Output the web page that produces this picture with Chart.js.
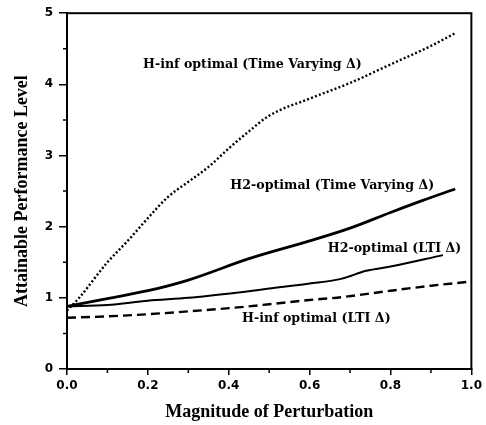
<!DOCTYPE html>
<html>
<head>
<meta charset="utf-8">
<script src="https://cdn.jsdelivr.net/npm/chart.js@4/dist/chart.umd.min.js"></script>
<style>
  html, body { margin: 0; padding: 0; background: #fff; }
  #wrap { width: 486px; height: 425px; }
</style>
</head>
<body>
<div id="wrap"><canvas id="chart" width="486" height="425"></canvas></div>
<script>
// values
const hinfTvX = [0.0, 0.03, 0.1, 0.15, 0.2, 0.25, 0.3, 0.35, 0.4, 0.45, 0.5, 0.6, 0.7, 0.8, 0.9, 0.96];
const hinfTvY = [0.82, 1.0, 1.5, 1.8, 2.12, 2.42, 2.63, 2.84, 3.1, 3.34, 3.56, 3.8, 4.02, 4.28, 4.54, 4.72];

const h2TvX = [0.0, 0.1, 0.2, 0.3, 0.45, 0.6, 0.7, 0.8, 0.88, 0.96];
const h2TvY = [0.88, 0.99, 1.1, 1.25, 1.55, 1.8, 1.98, 2.2, 2.37, 2.53];

const h2LtiX = [0.0, 0.1, 0.2, 0.3, 0.43, 0.5, 0.6, 0.68, 0.74, 0.8, 0.93];
const h2LtiY = [0.88, 0.9, 0.96, 1.0, 1.08, 1.13, 1.2, 1.27, 1.38, 1.44, 1.6];

const hinfLtiX = [0.0, 0.1, 0.2, 0.3, 0.43, 0.5, 0.6, 0.68, 0.8, 0.9, 1.0];
const hinfLtiY = [0.72, 0.74, 0.77, 0.81, 0.87, 0.91, 0.97, 1.01, 1.1, 1.17, 1.23];

const xTickLabels = ["0.0", "0.2", "0.4", "0.6", "0.8", "1.0"];
const yTickLabels = ["0", "1", "2", "3", "4", "5"];

const curveLabels = [
  { text: "H-inf optimal (Time Varying \u0394)", x: 0.188, y: 4.27 },
  { text: "H2-optimal (Time Varying \u0394)", x: 0.404, y: 2.58 },
  { text: "H2-optimal (LTI \u0394)", x: 0.645, y: 1.69 },
  { text: "H-inf optimal (LTI \u0394)", x: 0.433, y: 0.71 },
];

const toPoints = (xs, ys) => xs.map((x, i) => ({ x, y: ys[i] }));

// frame, minor ticks and curve labels
const decorations = {
  id: "decorations",
  afterDraw(chart) {
    const { ctx, chartArea: a, scales } = chart;
    const sx = scales.x, sy = scales.y;
    ctx.save();
    ctx.strokeStyle = "#000";
    ctx.lineWidth = 2;
    ctx.strokeRect(a.left, a.top, a.right - a.left, a.bottom - a.top);

    ctx.lineWidth = 1.5;
    ctx.beginPath();
    for (let v = 0.1; v < 1; v += 0.2) {
      const px = sx.getPixelForValue(v);
      ctx.moveTo(px, a.bottom);
      ctx.lineTo(px, a.bottom + 4);
    }
    for (let v = 0.5; v < 5; v += 1) {
      const py = sy.getPixelForValue(v);
      ctx.moveTo(a.left, py);
      ctx.lineTo(a.left - 4, py);
    }
    ctx.stroke();

    ctx.fillStyle = "#000";
    ctx.font = "bold 12.6px 'DejaVu Serif'";
    ctx.textAlign = "left";
    ctx.textBaseline = "middle";
    curveLabels.forEach((l) => {
      ctx.fillText(l.text, sx.getPixelForValue(l.x), sy.getPixelForValue(l.y));
    });
    ctx.restore();
  },
};

new Chart(document.getElementById("chart"), {
  type: "line",
  data: {
    datasets: [
      {
        data: toPoints(hinfTvX, hinfTvY),
        borderColor: "#000",
        borderWidth: 2.4,
        borderDash: [2, 2.2],
        cubicInterpolationMode: "monotone",
      },
      {
        data: toPoints(h2TvX, h2TvY),
        borderColor: "#000",
        borderWidth: 2.8,
        cubicInterpolationMode: "monotone",
      },
      {
        data: toPoints(h2LtiX, h2LtiY),
        borderColor: "#000",
        borderWidth: 2,
        cubicInterpolationMode: "monotone",
      },
      {
        data: toPoints(hinfLtiX, hinfLtiY),
        borderColor: "#000",
        borderWidth: 2.4,
        borderDash: [9, 5],
        cubicInterpolationMode: "monotone",
      },
    ],
  },
  options: {
    responsive: false,
    animation: false,
    events: [],
    elements: { point: { radius: 0 } },
    layout: { padding: { top: 12, right: 14, left: 0, bottom: 0 } },
    plugins: { legend: { display: false }, tooltip: { enabled: false } },
    scales: {
      x: {
        type: "linear",
        min: 0,
        max: 1,
        afterFit: (s) => { s.height = 56; },
        afterBuildTicks: (s) => { s.ticks = xTickLabels.map((t) => ({ value: parseFloat(t) })); },
        ticks: {
          callback: (v, i) => xTickLabels[i],
          color: "#000",
          font: { family: "'DejaVu Sans'", weight: "bold", size: 12 },
          padding: 4,
          maxRotation: 0,
        },
        grid: { drawOnChartArea: false, color: "#000", lineWidth: 1.5, tickLength: 6 },
        border: { color: "#000", width: 2 },
        title: {
          display: true,
          text: "Magnitude of Perturbation",
          color: "#000",
          font: { family: "'Liberation Serif'", weight: "bold", size: 18 },
          padding: { top: 0, bottom: 2 },
        },
      },
      y: {
        type: "linear",
        min: 0,
        max: 5,
        afterFit: (s) => { s.width = 67; },
        afterBuildTicks: (s) => { s.ticks = yTickLabels.map((t) => ({ value: parseFloat(t) })); },
        ticks: {
          callback: (v, i) => yTickLabels[i],
          color: "#000",
          font: { family: "'DejaVu Sans'", weight: "bold", size: 12 },
          padding: 6,
        },
        grid: { drawOnChartArea: false, color: "#000", lineWidth: 1.5, tickLength: 8 },
        border: { color: "#000", width: 2 },
        title: {
          display: true,
          text: "Attainable Performance Level",
          color: "#000",
          font: { family: "'Liberation Serif'", weight: "bold", size: 18 },
          padding: { top: 12, bottom: 0 },
        },
      },
    },
  },
  plugins: [decorations],
});
</script>
</body>
</html>
